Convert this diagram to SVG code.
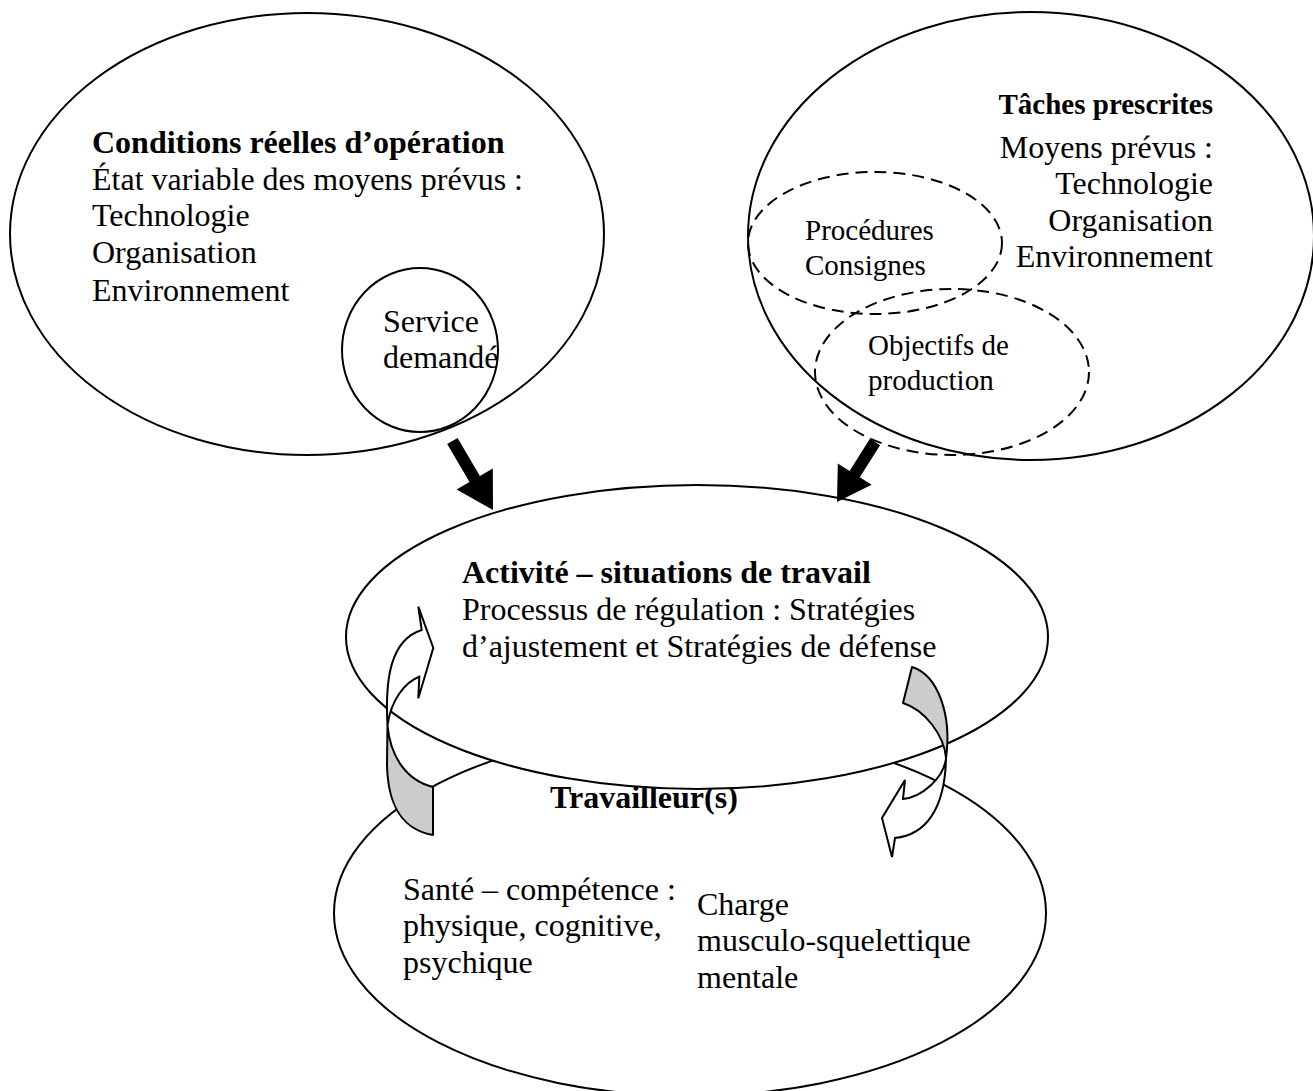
<svg xmlns="http://www.w3.org/2000/svg" width="1313" height="1091" viewBox="0 0 1313 1091">
<style>
  .o { fill: none; stroke: #000; stroke-width: 2; }
  .w { fill: #fff; stroke: #000; stroke-width: 2; }
  .d { fill: none; stroke: #000; stroke-width: 2; stroke-dasharray: 12 7; }
  .t { font-family: "Liberation Serif", "Times New Roman", serif; font-size: 32px; fill: #000; }
  .b { font-weight: bold; }
  .s { font-size: 29px; }
  .h { font-size: 29px; }
  .g { fill: #cccccc; stroke: #000; stroke-width: 2; stroke-linejoin: round; }
  .f { fill: #fff; stroke: #000; stroke-width: 2; stroke-linejoin: miter; }
  .k { fill: #000; stroke: none; }
</style>
<rect width="1313" height="1091" fill="#fff"/>

<g id="conditions">
  <ellipse class="o" cx="307" cy="234" rx="297" ry="221"/>
  <text class="t b" x="92" y="153">Conditions réelles d’opération</text>
  <text class="t" x="92" y="190">État variable des moyens prévus :</text>
  <text class="t" x="92" y="226">Technologie</text>
  <text class="t" x="92" y="263">Organisation</text>
  <text class="t" x="92" y="301">Environnement</text>
</g>
<g id="service">
  <ellipse class="o" cx="420" cy="350" rx="78" ry="82"/>
  <text class="t" x="383" y="332">Service</text>
  <text class="t" x="383" y="368">demandé</text>
</g>

<g id="taches">
  <ellipse class="o" cx="1031" cy="236" rx="283" ry="224"/>
  <text class="t b h" x="1213" y="114" text-anchor="end">Tâches prescrites</text>
  <text class="t" x="1213" y="158" text-anchor="end">Moyens prévus :</text>
  <text class="t" x="1213" y="194" text-anchor="end">Technologie</text>
  <text class="t" x="1213" y="231" text-anchor="end">Organisation</text>
  <text class="t" x="1213" y="267" text-anchor="end">Environnement</text>
</g>
<g id="procedures">
  <ellipse class="d" cx="875" cy="243" rx="127" ry="71"/>
  <text class="t s" x="805" y="240">Procédures</text>
  <text class="t s" x="805" y="275">Consignes</text>
</g>
<g id="objectifs">
  <ellipse class="d" cx="952" cy="372" rx="137" ry="83"/>
  <text class="t s" x="868" y="355">Objectifs de</text>
  <text class="t s" x="868" y="390">production</text>
</g>

<g id="travailleurs">
  <ellipse class="w" cx="690" cy="913" rx="356" ry="183"/>
  <text class="t b" x="550" y="808">Travailleur(s)</text>
  <text class="t" x="403" y="900">Santé – compétence :</text>
  <text class="t" x="403" y="936">physique, cognitive,</text>
  <text class="t" x="403" y="973">psychique</text>
  <text class="t" x="697" y="915">Charge</text>
  <text class="t" x="697" y="951">musculo-squelettique</text>
  <text class="t" x="697" y="988">mentale</text>
</g>

<g id="activite">
  <ellipse class="w" cx="697" cy="637" rx="351" ry="152"/>
  <text class="t b" x="462" y="583">Activité – situations de travail</text>
  <text class="t" x="462" y="620">Processus de régulation : Stratégies</text>
  <text class="t" x="462" y="657">d’ajustement et Stratégies de défense</text>
</g>

<g id="connectors">
  <polygon class="k" points="457.6,438 447.2,444 469.5,482 456.6,489.6 493,510 492.8,468.4 479.9,476"/>
  <polygon class="k" points="880.1,445.2 869.9,438.8 849.6,470.9 837.8,463.4 837,502 871.6,484.8 859.8,477.3"/>
  <path class="g" d="M433,787 L433,835 C405,830 388,810 387,765 L387.5,725 C390,755 405,780 433,787 Z"/>
  <path class="f" d="M387.5,725 C385,680 390,640 421.7,630 L418.3,606.7 L433.3,648 L418.3,698.3 L419.3,676.7 C405,682 391,700 387.5,725 Z"/>
  <path class="g" d="M912,667 C938,675 952,715 946,758 C944,735 925,710 903,703 Z"/>
  <path class="f" d="M946,758 C944,778 922,797 903,799 L905,780 L882,818 L892,857 L895,838 C925,835 945,810 946,758 Z"/>
</g>
</svg>
